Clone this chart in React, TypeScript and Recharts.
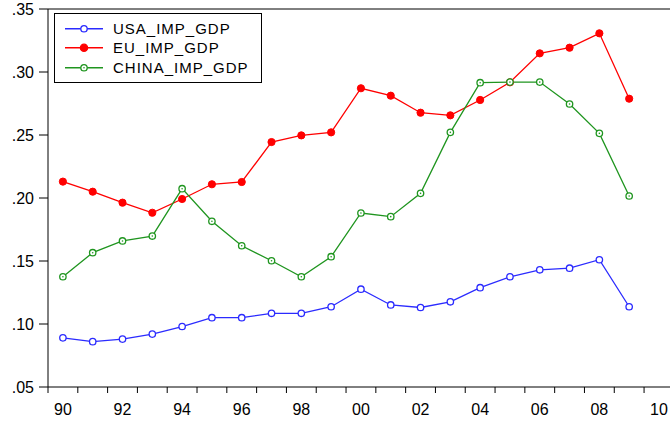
import { LineChart, Line, XAxis, YAxis, ReferenceLine, Legend } from "recharts";

// import / GDP ratios, 1990-2009
const years = [
  1990, 1991, 1992, 1993, 1994, 1995, 1996, 1997, 1998, 1999,
  2000, 2001, 2002, 2003, 2004, 2005, 2006, 2007, 2008, 2009,
];
const usaImpGdp = [
  0.089, 0.086, 0.088, 0.092, 0.098, 0.105, 0.105, 0.1085, 0.1085, 0.1137,
  0.1276, 0.1151, 0.1131, 0.1176, 0.1288, 0.1375, 0.143, 0.1443, 0.151, 0.1137,
];
const euImpGdp = [
  0.213, 0.205, 0.1963, 0.1883, 0.1992, 0.2109, 0.2127, 0.2444, 0.2497, 0.2521,
  0.2871, 0.2812, 0.2677, 0.2656, 0.2778, 0.2918, 0.3148, 0.3193, 0.3307, 0.2788,
];
const chinaImpGdp = [
  0.1375, 0.1566, 0.1659, 0.1698, 0.2074, 0.1815, 0.1621, 0.1502, 0.1375, 0.1534,
  0.1881, 0.1852, 0.2037, 0.2521, 0.2915, 0.292, 0.292, 0.2746, 0.2513, 0.2016,
];
const xTicks = [
  1990, 1991, 1992, 1993, 1994, 1995, 1996, 1997, 1998, 1999, 2000,
  2001, 2002, 2003, 2004, 2005, 2006, 2007, 2008, 2009, 2010,
];
const yTicks = [0.05, 0.1, 0.15, 0.2, 0.25, 0.3, 0.35];

const W = 670;
const H = 423;
const LEFT = 48;
const X_MIN = 1990;
const X_MAX = 2010.87;
const YEAR_PX = (W - LEFT) / (X_MAX - X_MIN);
const FONT = "'Liberation Sans', Arial, sans-serif";

const BLUE = "#2b2bff";
const RED = "#ff0000";
const GREEN = "#1f951f";

// each year sits in the middle of its period on the axis
const data = years.map((y, i) => ({
  t: y + 0.5,
  usa: usaImpGdp[i],
  eu: euImpGdp[i],
  china: chinaImpGdp[i],
}));

const series = [
  { key: "usa", name: "USA_IMP_GDP", color: BLUE, fill: "#fff" },
  { key: "eu", name: "EU_IMP_GDP", color: RED, fill: RED },
  { key: "china", name: "CHINA_IMP_GDP", color: GREEN, fill: "#fff" },
];

function YearTick(props: any) {
  const { x, payload } = props;
  const yr = payload.value as number;
  if (yr % 2 !== 0) return null;
  return (
    <text
      x={x + YEAR_PX / 2}
      y={415}
      textAnchor="middle"
      fontSize={16}
      fontFamily={FONT}
      fill="#000"
    >
      {String(yr % 100).padStart(2, "0")}
    </text>
  );
}

const fmtY = (v: number) => v.toFixed(2).replace(/^0/, "");

function ChinaDot(props: any) {
  const { cx, cy } = props;
  if (cx == null || cy == null) return null;
  return (
    <g>
      <circle cx={cx} cy={cy} r={3.2} fill="#fff" stroke={GREEN} strokeWidth={1.3} />
      <circle cx={cx} cy={cy} r={0.8} fill={GREEN} />
    </g>
  );
}

function LegendBox() {
  return (
    <div
      style={{
        position: "relative",
        width: 208,
        height: 70,
        border: "1px solid #000",
        boxSizing: "border-box",
        background: "#fff",
        fontFamily: FONT,
      }}
    >
      {series.map((s, i) => (
        <div
          key={s.key}
          style={{
            position: "absolute",
            left: 0,
            top: 4.5 + i * 19.5,
            height: 19.5,
            width: "100%",
            display: "flex",
            alignItems: "center",
          }}
        >
          <svg width={58} height={19.5} style={{ flex: "none" }}>
            <line x1={10} x2={48} y1={9.75} y2={9.75} stroke={s.color} strokeWidth={1.3} />
            {s.key === "china" ? (
              <ChinaDot cx={29} cy={9.75} />
            ) : (
              <circle
                cx={29}
                cy={9.75}
                r={s.key === "eu" ? 3.6 : 3.2}
                fill={s.fill}
                stroke={s.color}
                strokeWidth={1.3}
              />
            )}
          </svg>
          <span style={{ fontSize: 15, letterSpacing: 1, color: "#000", whiteSpace: "nowrap" }}>
            {s.name}
          </span>
        </div>
      ))}
    </div>
  );
}

export default function App() {
  return (
    <div style={{ position: "absolute", left: 0, top: 0, width: W, height: H, background: "#fff" }}>
      <LineChart width={W} height={H} data={data} margin={{ top: 9, right: 0, bottom: 0, left: 0 }}>
        <XAxis
          dataKey="t"
          type="number"
          domain={[X_MIN, X_MAX]}
          ticks={xTicks}
          interval={0}
          allowDataOverflow
          height={36}
          tickSize={6}
          tick={<YearTick />}
          axisLine={{ stroke: "#000" }}
          tickLine={{ stroke: "#000" }}
        />
        <YAxis
          type="number"
          domain={[0.05, 0.35]}
          ticks={yTicks}
          width={LEFT}
          tickSize={9}
          tickMargin={5}
          tickFormatter={fmtY}
          tick={{ fontSize: 16, fill: "#000", fontFamily: FONT }}
          axisLine={{ stroke: "#000" }}
          tickLine={{ stroke: "#000" }}
        />
        <ReferenceLine y={0.35} stroke="#000" />
        <Legend
          layout="vertical"
          align="center"
          verticalAlign="middle"
          wrapperStyle={{ left: 54, top: 13, width: 208, height: 70 }}
          content={() => <LegendBox />}
        />
        <Line
          dataKey="usa"
          name="USA_IMP_GDP"
          stroke={BLUE}
          strokeWidth={1.3}
          dot={{ r: 3.2, fill: "#fff", stroke: BLUE, strokeWidth: 1.3 }}
          isAnimationActive={false}
        />
        <Line
          dataKey="eu"
          name="EU_IMP_GDP"
          stroke={RED}
          strokeWidth={1.3}
          dot={{ r: 3.6, fill: RED, stroke: RED, strokeWidth: 1 }}
          isAnimationActive={false}
        />
        <Line
          dataKey="china"
          name="CHINA_IMP_GDP"
          stroke={GREEN}
          strokeWidth={1.3}
          dot={<ChinaDot />}
          isAnimationActive={false}
        />
      </LineChart>
    </div>
  );
}
